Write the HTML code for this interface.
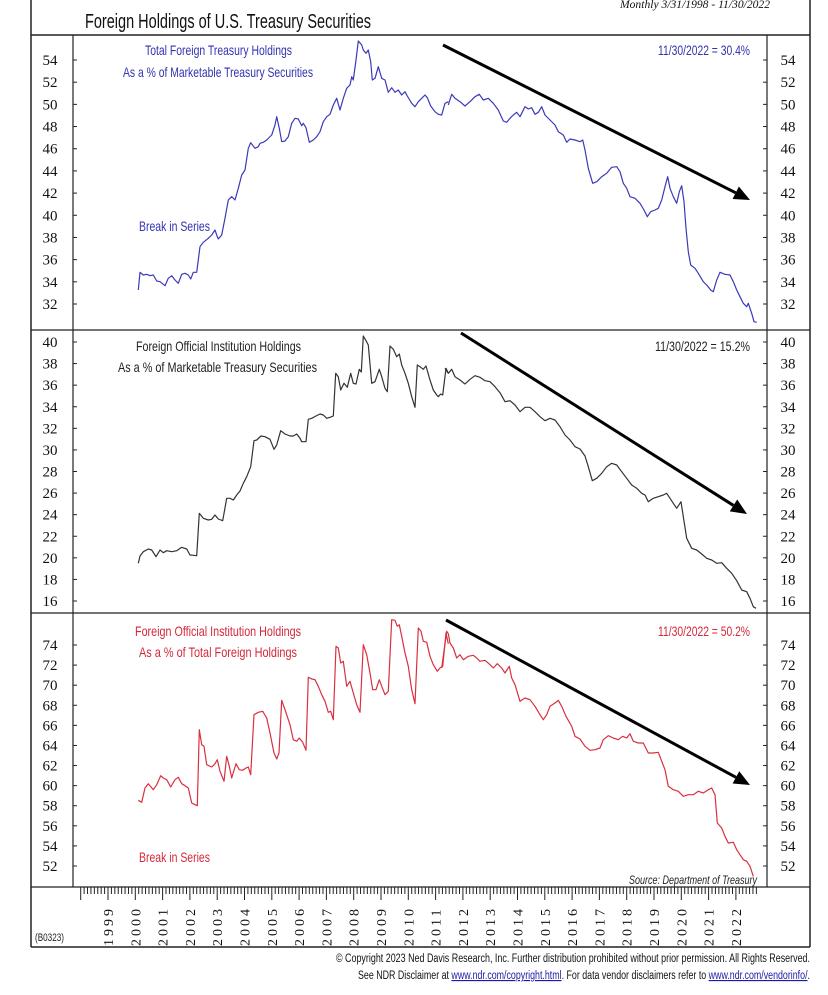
<!DOCTYPE html>
<html><head><meta charset="utf-8"><style>
html,body{margin:0;padding:0;background:#fff;width:828px;height:995px;overflow:hidden}
svg{display:block}
text{font-family:"Liberation Sans",sans-serif}
.s{font-family:"Liberation Serif",serif}
</style></head><body>
<svg id="c" width="828" height="995" viewBox="0 0 828 995" xmlns="http://www.w3.org/2000/svg">
<rect width="828" height="995" fill="#fff"/>
<line x1="31" y1="-2" x2="31" y2="947" stroke="#222" stroke-width="1.5"/>
<line x1="810" y1="-2" x2="810" y2="947" stroke="#222" stroke-width="1.5"/>
<line x1="31" y1="947" x2="810" y2="947" stroke="#222" stroke-width="1.5"/>
<line x1="31" y1="35" x2="810" y2="35" stroke="#222" stroke-width="1.5"/>
<line x1="31" y1="330" x2="810" y2="330" stroke="#222" stroke-width="1.2"/>
<line x1="31" y1="613" x2="810" y2="613" stroke="#222" stroke-width="1.2"/>
<line x1="31" y1="887" x2="810" y2="887" stroke="#222" stroke-width="1.2"/>
<line x1="73" y1="35" x2="73" y2="887" stroke="#222" stroke-width="1.2"/>
<line x1="767" y1="35" x2="767" y2="887" stroke="#222" stroke-width="1.2"/>
<text x="85" y="28" font-size="20" textLength="286" lengthAdjust="spacingAndGlyphs" fill="#111">Foreign Holdings of U.S. Treasury Securities</text>
<text class="s" x="620" y="8" font-size="12" font-style="italic" textLength="150" lengthAdjust="spacingAndGlyphs" fill="#111">Monthly 3/31/1998 - 11/30/2022</text>
<g id="g"></g>
<g font-size="14">
<text x="145" y="55" fill="#3333b0" textLength="147" lengthAdjust="spacingAndGlyphs">Total Foreign Treasury Holdings</text>
<text x="123" y="77" fill="#3333b0" textLength="190" lengthAdjust="spacingAndGlyphs">As a % of Marketable Treasury Securities</text>
<text x="658" y="55" fill="#3333b0" textLength="92" lengthAdjust="spacingAndGlyphs">11/30/2022 = 30.4%</text>
<text x="139" y="231" fill="#3333b0" textLength="71" lengthAdjust="spacingAndGlyphs">Break in Series</text>
<text x="136" y="351" fill="#222" textLength="165" lengthAdjust="spacingAndGlyphs">Foreign Official Institution Holdings</text>
<text x="118" y="372" fill="#222" textLength="199" lengthAdjust="spacingAndGlyphs">As a % of Marketable Treasury Securities</text>
<text x="655" y="351" fill="#222" textLength="95" lengthAdjust="spacingAndGlyphs">11/30/2022 = 15.2%</text>
<text x="135" y="636" fill="#d4283a" textLength="166" lengthAdjust="spacingAndGlyphs">Foreign Official Institution Holdings</text>
<text x="139" y="657" fill="#d4283a" textLength="158" lengthAdjust="spacingAndGlyphs">As a % of Total Foreign Holdings</text>
<text x="658" y="636" fill="#d4283a" textLength="92" lengthAdjust="spacingAndGlyphs">11/30/2022 = 50.2%</text>
<text x="139" y="862" fill="#d4283a" textLength="71" lengthAdjust="spacingAndGlyphs">Break in Series</text>
<text x="629" y="884" fill="#222" font-style="italic" font-size="12" textLength="128" lengthAdjust="spacingAndGlyphs">Source: Department of Treasury</text>
</g>
<text x="35" y="941" font-size="11" fill="#222" textLength="29" lengthAdjust="spacingAndGlyphs">(B0323)</text>
<text x="810" y="962" font-size="11.5" text-anchor="end" fill="#111" textLength="474" lengthAdjust="spacingAndGlyphs">© Copyright 2023 Ned Davis Research, Inc.  Further distribution prohibited without prior permission.  All Rights Reserved.</text>
<text x="810" y="979" font-size="11.5" text-anchor="end" fill="#111" textLength="452" lengthAdjust="spacingAndGlyphs">See NDR Disclaimer at <tspan fill="#1a1aa8" text-decoration="underline">www.ndr.com/copyright.html</tspan>. For data vendor disclaimers refer to <tspan fill="#1a1aa8" text-decoration="underline">www.ndr.com/vendorinfo/</tspan>.</text>
</svg>
<script>
var NS="http://www.w3.org/2000/svg",g=document.getElementById("g");
function el(t,a,txt){var e=document.createElementNS(NS,t);for(var k in a)e.setAttribute(k,a[k]);if(txt!=null)e.textContent=txt;g.appendChild(e);return e;}
// v0 at yBottom, v1 at yTop
function axis(v0,v1,yB,yT){for(var v=v0;v<=v1;v+=2){var y=yT+(v1-v)*(yB-yT)/(v1-v0);
el("line",{x1:73,y1:y,x2:77,y2:y,stroke:"#222","stroke-width":1});
el("line",{x1:763,y1:y,x2:767,y2:y,stroke:"#222","stroke-width":1});
el("text",{x:50,y:y+5,"font-size":15,"text-anchor":"middle","class":"s",fill:"#111"},String(v));
el("text",{x:788,y:y+5,"font-size":15,"text-anchor":"middle","class":"s",fill:"#111"},String(v));}}
axis(32,54,304,60);axis(16,40,601,342);axis(52,74,866,645);
for(var yr=1998;yr<=2022;yr++){for(var m=0;m<8;m++){var x=108+(yr-1999)*27.3+m*27.3/8;if(x<80||x>757)continue;
var major=m==0;el("line",{x1:x,y1:887,x2:x,y2:major?900:894,stroke:"#222","stroke-width":1});}
if(yr>=1999){var x=108+(yr-1999)*27.3;el("text",{x:0,y:0,"font-size":14,"class":"s",fill:"#111","letter-spacing":"3",transform:"translate("+(x+5)+",946) rotate(-90)"},String(yr));}}
function line(off,pts,col){var s="";for(var i=0;i<pts.length;i+=2){s+=(off[0]+pts[i]/3).toFixed(1)+","+(off[1]+pts[i+1]/3).toFixed(1)+" ";}
el("polyline",{points:s,fill:"none",stroke:col,"stroke-width":1.2,"stroke-linejoin":"round"});}
var B="#3a3ab8",K="#333",R="#d83040";
line([130,35],[25,765,30,712,40,720,50,718,60,722,70,720,80,738,90,740,100,748,105,752,115,730,125,722,135,735,145,745,155,718,165,715,175,720,182,732,190,712,200,712,210,635,220,622,235,610,245,600,255,585,260,600,265,612,275,600,285,550,295,495,305,485,315,495,325,460,335,420,345,405,355,340,362,323,375,340,385,335,390,325,400,322,410,315,425,300,435,270,440,245,448,280,455,320,465,318,475,305,485,265,495,250,505,252,515,272,520,265,528,278,538,322,550,315,560,305,570,290,580,260,590,245,600,238,610,210,620,190,630,225,640,190,650,160,660,150,665,125,670,135,678,75,685,18,695,30,700,45,708,55,715,45,722,80,727,135,735,130,745,95,755,130,765,135,775,172,785,158,795,172,805,165,815,180,825,170,832,183,845,205,855,215,865,200,875,190,885,180,892,188,902,213,915,230,925,238,935,240,945,205,955,200],B);
line([440,35],[25,210,35,178,45,190,60,200,75,213,90,200,105,185,118,178,130,195,145,190,160,205,175,225,190,258,200,262,210,250,220,240,230,232,240,245,255,215,265,222,275,218,285,238,295,232,305,215,315,240,330,255,345,270,355,290,370,300,380,322,390,312,405,315,420,320,428,315,435,345,445,400,458,445,470,440,485,425,500,415,515,397,530,395,540,410,550,445,560,460,570,485,585,490,600,505,612,525,622,545,632,530,645,525,655,520,665,495,675,455,683,425,690,460,700,485,710,505,718,470,725,452,732,500,738,580,745,650,752,690,765,700,775,715,790,740,800,750,812,765,820,770,830,735,840,712,855,718,870,720,880,740,890,765,900,785,910,805,920,815,925,805,935,835,942,860,950,862],B);
line([130,330],[25,700,30,678,40,665,55,657,65,660,78,680,90,660,100,668,110,662,125,665,140,662,155,652,170,657,180,675,190,676,200,677,208,550,220,565,235,570,245,568,255,555,265,567,278,572,290,505,300,505,310,510,320,495,330,483,340,460,350,440,362,410,372,332,380,330,393,318,405,320,420,328,432,358,440,345,452,302,465,312,480,318,490,318,500,312,510,325,515,335,528,335,535,268,545,265,558,258,570,252,580,255,590,265,600,262,610,258,617,130,625,140,632,180,642,160,652,172,662,130,670,160,678,162,688,118,694,126,700,18,708,32,715,45,725,160,735,155,748,118,755,140,765,175,772,185,780,48,790,58,800,80,808,72,815,105,825,130,835,160,845,200,855,232,862,105,870,110,880,118,888,108,900,150,910,180,920,195,925,200,932,192,938,195,948,115,955,130],K);
line([440,330],[15,115,25,130,35,118,45,140,60,150,75,162,90,148,105,137,120,142,135,152,150,155,165,170,180,188,195,215,210,212,225,225,240,245,255,232,270,232,285,245,300,260,315,272,330,265,345,270,360,290,375,315,390,330,405,350,420,357,435,378,445,410,457,452,470,445,485,430,500,410,515,400,530,405,545,425,560,445,575,465,590,475,605,490,615,495,625,515,640,505,655,500,670,495,680,490,690,505,700,520,710,535,723,515,730,560,740,625,755,655,770,660,785,672,800,685,815,690,830,700,845,698,860,715,875,730,890,752,905,780,920,785,930,805,940,830,948,835],K);
line([130,613],[25,562,35,568,45,525,55,512,70,530,80,515,92,488,100,495,110,500,122,522,135,500,145,493,155,512,165,518,175,525,185,570,195,575,202,578,208,350,215,395,222,400,230,455,245,462,255,452,262,440,270,475,282,505,290,430,298,460,305,495,318,452,328,470,338,472,348,465,355,462,362,485,372,305,385,298,398,295,410,315,420,360,432,420,440,438,447,420,455,262,465,290,480,335,490,380,500,385,508,375,518,388,528,412,535,193,545,198,555,200,565,220,575,245,585,265,595,298,602,295,610,320,618,100,625,105,632,150,640,145,650,220,660,205,670,240,680,275,690,298,700,95,710,125,720,180,728,230,738,230,748,200,755,220,765,245,775,235,785,20,795,22,802,40,808,35,815,70,825,120,835,160,845,230,855,272,865,45,873,55,880,85,890,88,900,130,910,155,922,175,930,165,938,160,948,60,955,92],R);
line([440,613],[5,165,20,55,25,62,30,90,40,105,50,135,60,125,70,140,85,130,100,127,110,135,120,145,135,142,150,155,160,165,172,152,185,165,195,180,208,160,215,195,225,215,240,265,255,255,270,260,285,280,300,305,310,320,320,305,330,280,345,270,355,262,365,280,378,310,395,340,405,370,420,378,435,400,450,412,465,410,480,405,490,380,505,368,520,375,535,380,548,370,560,375,570,362,580,385,595,390,610,390,625,420,640,420,655,418,665,445,675,470,685,520,700,530,715,535,730,550,745,545,760,545,775,535,790,540,805,530,815,525,825,545,832,630,845,645,855,670,865,690,880,688,890,710,900,725,910,740,920,745,930,760,940,790],R);
function arrow(x1,y1,x2,y2){var dx=x2-x1,dy=y2-y1,L=Math.sqrt(dx*dx+dy*dy),ux=dx/L,uy=dy/L,h=16,w=7;
var bx=x2-ux*h,by=y2-uy*h;
el("line",{x1:x1,y1:y1,x2:bx,y2:by,stroke:"#000","stroke-width":3});
el("polygon",{points:x2+","+y2+" "+(bx-uy*w)+","+(by+ux*w)+" "+(bx+uy*w)+","+(by-ux*w),fill:"#000"});}
arrow(443,45,750,200);arrow(461,333,747,514);arrow(446,620,750,785);
</script>
</body></html>
